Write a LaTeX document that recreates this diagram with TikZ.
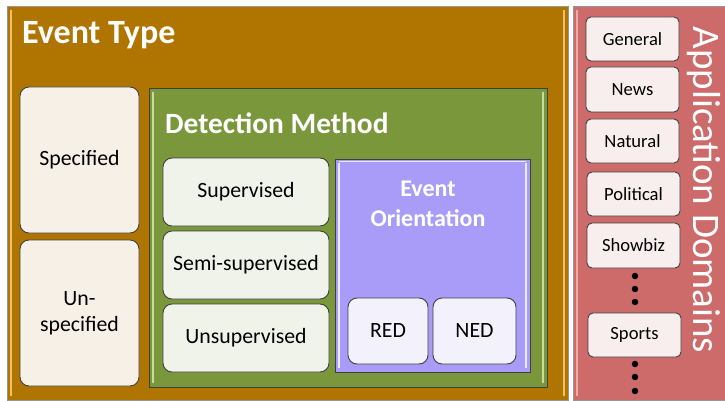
\documentclass[tikz,border=0pt]{standalone}
\usepackage{fontspec}
\setmainfont{Carlito}
\definecolor{brownbg}{RGB}{176,117,0}
\definecolor{brownhi}{RGB}{236,196,104}
\definecolor{greenbg}{RGB}{122,152,59}
\definecolor{greenhi}{RGB}{200,222,150}
\definecolor{purplebg}{RGB}{168,156,248}
\definecolor{purplehi}{RGB}{236,232,255}
\definecolor{pinkbg}{RGB}{205,107,107}
\definecolor{pinkhi}{RGB}{236,170,170}
\definecolor{creamfill}{RGB}{246,240,230}
\definecolor{leafgreen}{RGB}{240,243,234}
\definecolor{lavfill}{RGB}{243,241,252}
\definecolor{domfill}{RGB}{248,238,238}
\definecolor{edge}{RGB}{64,64,64}
\definecolor{frame}{RGB}{150,150,150}
\tikzset{
  container/.style={draw=edge, line width=0.9pt, outer sep=0pt},
  leafbox/.style={draw=edge, line width=0.9pt, rounded corners=9pt, outer sep=0pt, anchor=north west, align=center, font=\fontsize{21.8}{26}\selectfont, inner sep=0pt},
  dombox/.style={draw=edge, line width=0.9pt, rounded corners=5pt, outer sep=0pt, anchor=north west, fill=domfill, font=\fontsize{18.6}{21}\selectfont, inner sep=0pt, minimum width=93pt},
  title/.style={text=white, font=\bfseries, anchor=west, inner sep=0pt},
  bevel/.style={line width=1.4pt},
  dotmark/.style={circle, fill=black, inner sep=0pt, minimum size=6.5pt},
}
\begin{document}
\begin{tikzpicture}[x=1pt,y=-1pt]
\useasboundingbox (0,0) rectangle (725,401);
\fill[white] (0,0) rectangle (725,401);
\begin{scope}
\clip (0,0) rectangle (725,401);
% Event Type container
\node (et) [container, fill=brownbg, anchor=north west, minimum width=561pt, minimum height=394pt] at (7,6) {};
\draw[frame, line width=0.8pt] (et.north west) rectangle (et.south east);
\draw[bevel, brownhi] ([xshift=4pt,yshift=-4pt]et.north west) -- ([xshift=4pt,yshift=4pt]et.south west);
\draw[bevel, brownhi] ([xshift=-4pt,yshift=-4pt]et.north east) -- ([xshift=-4pt,yshift=4pt]et.south east);
\node (ettitle) [title, font=\bfseries\fontsize{34}{38}\selectfont] at (22,35) {Event Type};
% Application domains container
\node (ad) [container, draw=frame, fill=pinkbg, anchor=north west, minimum width=160pt, minimum height=394pt] at (573,6) {};
\draw[bevel, pinkhi] ([xshift=4pt,yshift=-4pt]ad.north west) -- ([xshift=4pt,yshift=4pt]ad.south west);
\node (adtitle) [text=white, rotate=-90, inner sep=0pt, font=\fontsize{39}{42}\selectfont] at (704,190) {Application Domains};
\end{scope}
% Event type leaves
\node (spec) [leafbox, fill=creamfill, minimum width=119pt, minimum height=146pt] at (20,87) {Specified};
\node (unspec) [leafbox, fill=creamfill, minimum width=119pt, minimum height=146pt] at (20,240) {Un-\\specified};
% Detection method container
\node (dm) [container, fill=greenbg, anchor=north west, minimum width=398pt, minimum height=299pt] at (149,88) {};
\draw[bevel, greenhi] ([xshift=4pt,yshift=-4pt]dm.north west) -- ([xshift=4pt,yshift=4pt]dm.south west);
\draw[bevel, greenhi] ([xshift=-4pt,yshift=-4pt]dm.north east) -- ([xshift=-4pt,yshift=4pt]dm.south east);
\node (dmtitle) [title, font=\bfseries\fontsize{29.4}{32}\selectfont] at (165,123) {Detection Method};
\node (sup) [leafbox, fill=leafgreen, minimum width=166pt, minimum height=68pt] at (163,158) {Supervised};
\node (semi) [leafbox, fill=leafgreen, minimum width=166pt, minimum height=68pt] at (163,231) {Semi-supervised};
\node (unsup) [leafbox, fill=leafgreen, minimum width=166pt, minimum height=68pt] at (163,304) {Unsupervised};
% Event orientation container
\node (eo) [container, fill=purplebg, anchor=north west, minimum width=195pt, minimum height=213pt] at (335,159) {};
\draw[bevel, purplehi] ([xshift=4pt,yshift=-4pt]eo.north west) -- ([xshift=4pt,yshift=4pt]eo.south west);
\draw[bevel, purplehi] ([xshift=-4pt,yshift=-4pt]eo.north east) -- ([xshift=-4pt,yshift=4pt]eo.south east);
\draw[line width=1pt, purplehi] ([xshift=4pt,yshift=-2.5pt]eo.north west) -- ([xshift=-4pt,yshift=-2.5pt]eo.north east);
\node (eotitle) [text=white, font=\bfseries\fontsize{24}{30}\selectfont, align=center, inner sep=0pt] at (428,204) {Event\\Orientation};
\node (red) [leafbox, fill=lavfill, minimum width=80pt, minimum height=66pt] at (348,298) {RED};
\node (ned) [leafbox, fill=lavfill, minimum width=83pt, minimum height=66pt] at (433,298) {NED};
% Domains
\node (gen) [dombox, minimum height=44pt] at (586,17) {General};
\node (news) [dombox, minimum height=45pt] at (586,67) {News};
\node (nat) [dombox, minimum height=44pt] at (586,119) {Natural};
\node (pol) [dombox, minimum height=44pt] at (587,172) {Political};
\node (show) [dombox, minimum height=45pt] at (587,223) {Showbiz};
\node (sports) [dombox, minimum height=44pt] at (588,313) {Sports};
\node (d1) [dotmark] at (635,276) {};
\node (d2) [dotmark] at (635,289) {};
\node (d3) [dotmark] at (635,302) {};
\node (d4) [dotmark] at (635,364) {};
\node (d5) [dotmark] at (635,377) {};
\node (d6) [dotmark] at (635,391) {};
\end{tikzpicture}
\end{document}
